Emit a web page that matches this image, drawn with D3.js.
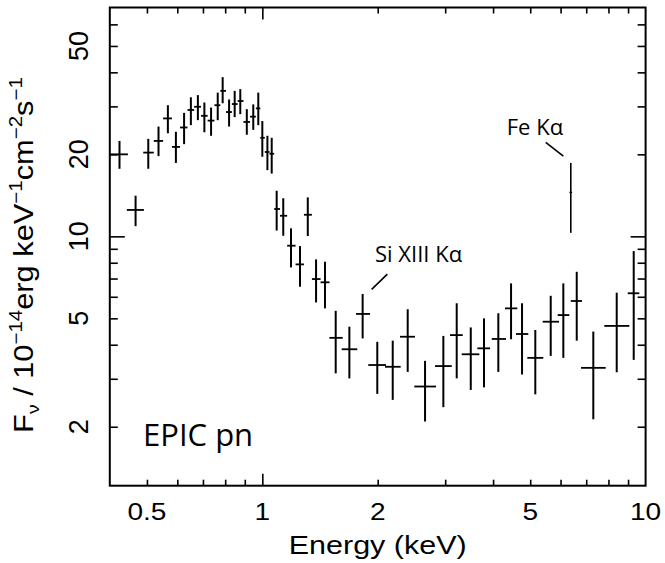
<!DOCTYPE html>
<html><head><meta charset="utf-8">
<script src="https://cdn.jsdelivr.net/npm/d3@7"></script>
<style>body{margin:0;background:#fff} svg{display:block}</style>
</head><body><svg id="c" width="665" height="563"></svg>
<script>
// ---- data (keV, 1e-14 erg keV^-1 cm^-2 s^-1) ----
const energy   = [0.424,0.467,0.504,0.536,0.567,0.595,0.625,0.651,0.679,0.706,0.735,0.765,0.788,0.819,0.847,0.876,0.911,0.947,0.976,1.000,1.031,1.058,1.090,1.134,1.188,1.254,1.314,1.381,1.457,1.554,1.687,1.827,1.995,2.189,2.395,2.658,2.967,3.215,3.498,3.788,4.128,4.456,4.760,5.155,5.655,6.100,6.612,7.304,8.407,9.311];
const energyLo = [0.401,0.443,0.489,0.521,0.551,0.581,0.610,0.638,0.664,0.692,0.720,0.750,0.777,0.804,0.833,0.862,0.893,0.929,0.962,0.988,1.015,1.044,1.074,1.112,1.161,1.221,1.284,1.347,1.419,1.496,1.611,1.756,1.890,2.090,2.287,2.492,2.822,3.088,3.313,3.639,3.968,4.297,4.591,4.913,5.390,5.897,6.378,6.785,7.803,8.981];
const energyHi = [0.446,0.491,0.521,0.551,0.581,0.610,0.638,0.664,0.692,0.720,0.750,0.777,0.804,0.833,0.862,0.893,0.929,0.962,0.988,1.015,1.044,1.074,1.112,1.161,1.221,1.284,1.347,1.419,1.497,1.621,1.769,1.910,2.102,2.296,2.502,2.840,3.120,3.333,3.683,3.928,4.323,4.627,4.943,5.409,5.943,6.324,6.825,7.868,9.068,9.630];
const flux     = [20.0,12.5,20.3,22.4,27.1,21.3,25.1,29.1,29.9,27.7,26.6,30.3,34.2,28.6,30.6,31.4,26.3,27.5,29.5,23.0,20.4,20.1,12.6,11.9,9.24,7.89,12.0,6.97,6.78,4.24,3.85,5.19,3.37,3.32,4.28,2.81,3.34,4.34,3.69,3.88,4.20,5.44,4.38,3.58,4.86,5.14,5.79,3.29,4.69,6.18];
const fluxHi   = [22.4,14.1,22.8,25.3,30.3,24.2,28.4,32.4,33.0,31.0,29.7,33.7,38.4,31.8,34.2,34.7,29.3,30.5,33.7,26.5,23.4,23.0,14.7,13.8,10.7,9.21,13.9,8.23,8.07,5.33,4.66,6.14,4.10,4.14,5.40,3.49,4.31,5.68,4.63,5.00,5.22,6.72,5.68,4.53,6.05,6.72,7.41,4.47,6.21,8.83];
const fluxLo   = [17.7,10.9,17.7,19.7,23.9,18.6,21.8,25.6,26.7,24.1,23.4,26.7,30.8,25.3,27.4,28.1,23.6,24.6,25.6,19.6,17.5,17.0,10.5,10.05,7.69,6.53,10.03,5.72,5.44,3.14,3.01,4.22,2.64,2.51,3.18,2.09,2.36,3.01,2.73,2.79,3.18,4.19,3.11,2.63,3.64,3.58,4.14,2.13,3.17,3.52];
// Fe K-alpha line point
const feEnergy = [6.38], feEnergyLo = [6.33], feEnergyHi = [6.43];
const feFlux = [14.5], feFluxLo = [10.3], feFluxHi = [18.6];

const xTickValues = [0.5, 1, 2, 5, 10];
const xTickLabels = ["0.5", "1", "2", "5", "10"];
const yTickValues = [2, 5, 10, 20, 50];
const yTickLabels = ["2", "5", "10", "20", "50"];

// annotations: [label, textE, textF, lineE1, lineF1, lineE2, lineF2]
const annotations = [
  ["Si XIII Kα", 1.968, 8.07, 2.119, 7.27, 1.929, 6.39],
  ["Fe Kα", 4.342, 23.55, 5.488, 22.13, 6.100, 19.71]
];
const panelLabel = ["EPIC pn", 0.4884, 1.70];

// ---- drawing ----
const svg = d3.select("#c");
const x = d3.scaleLog().domain([0.4, 10]).range([109.8, 645.6]);
const y = d3.scaleLog().domain([1.215, 69.2]).range([485.7, 7.5]);
const [X0, X1] = x.range(), [Y0, Y1] = y.range();
const AX = "Liberation Sans, Arial, Helvetica, sans-serif";
const ANN = "Open Sans, Noto Sans, sans-serif";

const allX = x.ticks().filter(v => v > 0.4 && v < 10);
const majorX = allX.filter(v => Math.abs(v - 1) < 1e-9);
const minorX = allX.filter(v => Math.abs(v - 1) >= 1e-9);
const allY = y.ticks().filter(v => v > 1.215 && v < 69.2);
const majorY = allY.filter(v => Math.abs(v - 10) < 1e-9);
const minorY = allY.filter(v => Math.abs(v - 10) >= 1e-9);

function styleAxis(g){ g.select(".domain").remove(); g.selectAll("line").attr("stroke","#000").attr("stroke-width",1.6); g.selectAll("text").remove(); }

svg.append("g").attr("transform",`translate(0,${Y0})`).call(d3.axisBottom(x).tickValues(minorX).tickSize(-6)).call(styleAxis);
svg.append("g").attr("transform",`translate(0,${Y0})`).call(d3.axisBottom(x).tickValues(majorX).tickSize(-12)).call(styleAxis);
svg.append("g").attr("transform",`translate(0,${Y1})`).call(d3.axisTop(x).tickValues(minorX).tickSize(-6)).call(styleAxis);
svg.append("g").attr("transform",`translate(0,${Y1})`).call(d3.axisTop(x).tickValues(majorX).tickSize(-12)).call(styleAxis);
svg.append("g").attr("transform",`translate(${X0},0)`).call(d3.axisLeft(y).tickValues(minorY).tickSize(-8)).call(styleAxis);
svg.append("g").attr("transform",`translate(${X0},0)`).call(d3.axisLeft(y).tickValues(majorY).tickSize(-15)).call(styleAxis);
svg.append("g").attr("transform",`translate(${X1},0)`).call(d3.axisRight(y).tickValues(minorY).tickSize(-8)).call(styleAxis);
svg.append("g").attr("transform",`translate(${X1},0)`).call(d3.axisRight(y).tickValues(majorY).tickSize(-15)).call(styleAxis);

svg.append("rect").attr("x",X0).attr("y",Y1).attr("width",X1-X0).attr("height",Y0-Y1)
  .attr("fill","none").attr("stroke","#000").attr("stroke-width",2);

// tick labels
xTickValues.forEach((v,i)=>{
  svg.append("text").attr("transform",`translate(${x(v)},520) scale(1.17,1)`)
    .attr("text-anchor","middle").attr("font-family",AX).attr("font-size",24).text(xTickLabels[i]);
});
yTickValues.forEach((v,i)=>{
  svg.append("text").attr("transform",`translate(88,${y(v)}) rotate(-90)`)
    .attr("text-anchor","middle").attr("font-family",AX).attr("font-size",27).text(yTickLabels[i]);
});

// axis titles
const xt = svg.append("text").attr("text-anchor","middle").attr("font-family",AX).attr("font-size",25).text("Energy (keV)");
{ const w = xt.node().getComputedTextLength(); const k = 178 / w;
  xt.attr("transform",`translate(${(X0+X1)/2},554) scale(${k},1)`); }

const yt = svg.append("text").attr("text-anchor","middle").attr("font-family",AX).attr("font-size",27);
yt.append("tspan").text("F");
yt.append("tspan").attr("font-size",17).attr("dy",6).text("ν");
yt.append("tspan").attr("dy",-6).text(" / 10");
yt.append("tspan").attr("font-size",18).attr("dy",-11).text("−14");
yt.append("tspan").attr("dy",11).text("erg keV");
yt.append("tspan").attr("font-size",18).attr("dy",-11).text("−1");
yt.append("tspan").attr("dy",11).text("cm");
yt.append("tspan").attr("font-size",18).attr("dy",-11).text("−2");
yt.append("tspan").attr("dy",11).text("s");
yt.append("tspan").attr("font-size",18).attr("dy",-11).text("−1");
{ const w = yt.node().getComputedTextLength(); const k = 356 / w;
  yt.attr("transform",`translate(33,255) rotate(-90) scale(${k},1)`); }

// data error crosses
const idx = d3.range(energy.length);
const g = svg.append("g").attr("stroke","#000");
g.selectAll("line.v").data(idx).join("line").attr("class","v")
  .attr("x1",i=>x(energy[i])).attr("x2",i=>x(energy[i]))
  .attr("y1",i=>y(fluxLo[i])).attr("y2",i=>y(fluxHi[i])).attr("stroke-width",2);
g.selectAll("line.h").data(idx).join("line").attr("class","h")
  .attr("x1",i=>x(energyLo[i])).attr("x2",i=>x(energyHi[i]))
  .attr("y1",i=>y(flux[i])).attr("y2",i=>y(flux[i])).attr("stroke-width",1.8);

const fe = d3.range(feEnergy.length);
g.selectAll("line.fv").data(fe).join("line").attr("class","fv")
  .attr("x1",i=>x(feEnergy[i])).attr("x2",i=>x(feEnergy[i]))
  .attr("y1",i=>y(feFluxLo[i])).attr("y2",i=>y(feFluxHi[i])).attr("stroke-width",1.6);
g.selectAll("line.fh").data(fe).join("line").attr("class","fh")
  .attr("x1",i=>x(feEnergyLo[i])).attr("x2",i=>x(feEnergyHi[i]))
  .attr("y1",i=>y(feFlux[i])).attr("y2",i=>y(feFlux[i])).attr("stroke-width",1.4);

// annotations
annotations.forEach(a=>{
  svg.append("text").attr("x",x(a[1])).attr("y",y(a[2])).attr("font-family",ANN).attr("font-size",22).text(a[0]);
  svg.append("line").attr("x1",x(a[3])).attr("y1",y(a[4])).attr("x2",x(a[5])).attr("y2",y(a[6]))
    .attr("stroke","#000").attr("stroke-width",1.6);
});
svg.append("text").attr("x",x(panelLabel[1])).attr("y",y(panelLabel[2])).attr("font-family",ANN).attr("font-size",31).text(panelLabel[0]);
</script></body></html>
